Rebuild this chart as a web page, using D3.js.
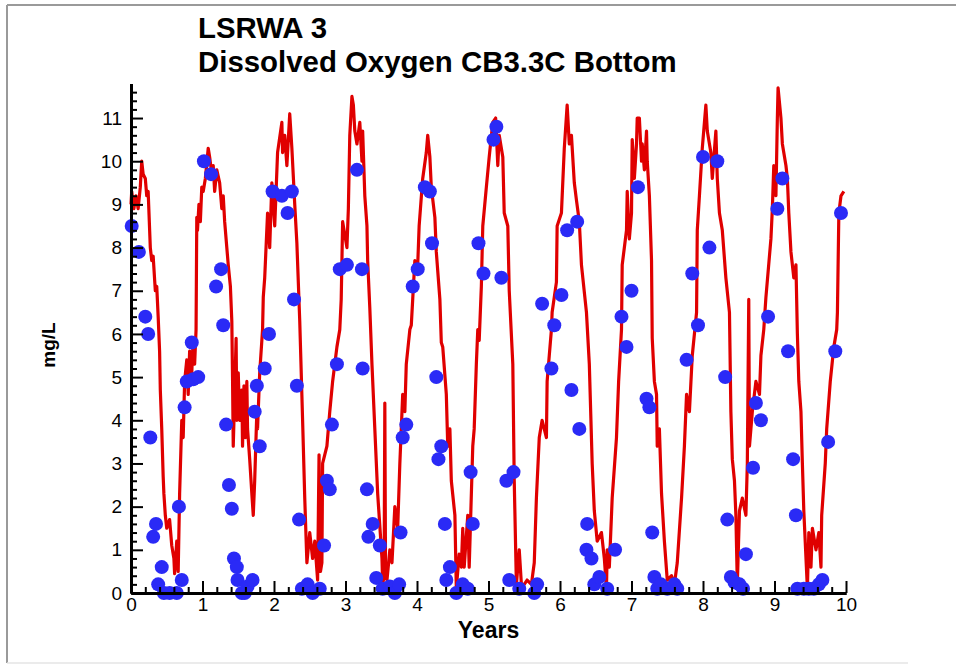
<!DOCTYPE html>
<html>
<head>
<meta charset="utf-8">
<script src="https://cdn.jsdelivr.net/npm/d3@7"></script>
<style>
    body { margin: 0; background: #fff; }
    svg { display: block; font-family: "Liberation Sans", Arial, sans-serif; }
</style>
</head>
<body>
<div id="chart"></div>
<script>

const titleLines = ["LSRWA 3", "Dissolved Oxygen CB3.3C Bottom"];
const xLabel = "Years";
const yLabel = "mg/L";
const xMajorTicks = [0, 1, 2, 3, 4, 5, 6, 7, 8, 9, 10];
const yMajorTicks = [0, 1, 2, 3, 4, 5, 6, 7, 8, 9, 10, 11];

/*  model curve, [years, mg/L]  */
const modelDO = [
    [0.00,9.0],[0.01,9.3],[0.04,8.9],[0.07,9.2],[0.10,8.9],[0.13,9.4],[0.15,10.0],[0.17,9.7],[0.20,9.6],[0.22,9.2],
    [0.24,9.3],[0.27,8.0],[0.29,7.7],[0.31,7.8],[0.34,7.0],[0.36,7.1],[0.38,6.4],[0.40,5.6],[0.41,4.7],[0.43,3.8],
    [0.45,2.7],[0.46,2.3],[0.48,1.8],[0.50,1.5],[0.54,1.7],[0.57,1.1],[0.60,0.8],[0.61,0.45],[0.64,1.2],[0.66,0.5],
    [0.68,2.3],[0.71,4.0],[0.73,3.6],[0.75,4.9],[0.78,5.4],[0.80,4.6],[0.82,5.6],[0.85,5.1],[0.87,5.9],[0.89,5.3],
    [0.91,6.1],[0.92,8.7],[0.93,8.4],[0.95,9.0],[0.97,8.6],[0.99,9.4],[1.01,9.3],[1.04,9.6],[1.08,10.3],[1.10,10.1],
    [1.13,9.7],[1.15,9.9],[1.17,9.3],[1.20,9.8],[1.24,9.5],[1.27,8.9],[1.29,9.2],[1.31,8.6],[1.34,8.0],[1.36,7.6],
    [1.39,7.1],[1.41,6.3],[1.42,5.0],[1.43,3.4],[1.45,4.6],[1.47,5.9],[1.48,4.0],[1.50,5.1],[1.52,4.0],[1.55,4.7],
    [1.56,3.4],[1.58,4.8],[1.60,3.6],[1.62,4.9],[1.63,3.8],[1.66,3.1],[1.69,2.3],[1.71,1.8],[1.73,2.6],[1.76,4.2],
    [1.77,3.8],[1.80,5.1],[1.84,6.1],[1.85,6.85],[1.87,7.3],[1.91,8.8],[1.94,8.0],[1.97,9.5],[2.01,8.5],[2.05,10.2],
    [2.11,10.9],[2.12,10.2],[2.15,10.6],[2.18,9.9],[2.22,11.1],[2.25,10.3],[2.29,9.0],[2.32,8.1],[2.36,6.3],[2.40,4.0],
    [2.43,2.2],[2.46,0.7],[2.50,1.4],[2.54,0.8],[2.57,1.2],[2.61,0.3],[2.63,3.2],[2.65,0.5],[2.67,0.7],[2.68,3.0],
    [2.74,3.4],[2.78,4.2],[2.82,4.9],[2.88,5.7],[2.92,6.1],[2.94,6.8],[2.96,8.6],[3.02,8.0],[3.04,8.9],[3.06,10.6],
    [3.09,11.5],[3.11,11.3],[3.13,10.7],[3.16,10.4],[3.20,10.9],[3.23,10.0],[3.24,10.7],[3.27,9.2],[3.30,8.5],[3.31,7.7],
    [3.34,6.6],[3.37,5.3],[3.41,3.8],[3.45,2.3],[3.51,0.8],[3.52,0.2],[3.54,0.4],[3.55,4.4],[3.56,0.4],[3.58,0.3],
    [3.62,1.0],[3.65,0.7],[3.69,2.0],[3.73,1.5],[3.76,3.0],[3.80,4.6],[3.83,4.2],[3.85,5.3],[3.90,6.1],[3.92,6.2],
    [3.94,6.8],[3.97,7.7],[4.01,7.6],[4.03,8.5],[4.08,9.6],[4.13,10.2],[4.15,10.6],[4.18,10.1],[4.20,9.4],[4.25,8.7],
    [4.27,7.9],[4.32,6.8],[4.34,5.8],[4.36,5.7],[4.41,4.6],[4.43,3.4],[4.46,3.8],[4.48,2.6],[4.53,1.8],[4.55,0.1],
    [4.59,0.9],[4.62,0.6],[4.64,1.5],[4.66,0.6],[4.71,1.8],[4.73,0.6],[4.78,3.4],[4.80,3.8],[4.83,5.3],[4.85,6.1],
    [4.87,5.85],[4.90,7.1],[4.92,8.5],[4.97,9.4],[5.01,10.1],[5.06,10.9],[5.10,11.0],[5.13,9.9],[5.15,10.6],[5.20,10.1],
    [5.22,8.8],[5.27,8.5],[5.29,7.0],[5.34,5.3],[5.36,2.6],[5.39,0.2],[5.43,1.0],[5.46,0.2],[5.50,0.2],[5.54,0.3],
    [5.60,0.2],[5.64,0.7],[5.67,2.2],[5.71,3.6],[5.75,4.0],[5.81,3.6],[5.82,4.9],[5.88,6.1],[5.89,6.5],[5.95,7.2],
    [5.96,8.5],[6.02,8.8],[6.06,10.3],[6.10,11.3],[6.13,10.4],[6.16,10.6],[6.20,9.5],[6.23,9.1],[6.27,8.6],[6.30,7.6],
    [6.37,6.5],[6.41,5.3],[6.45,3.0],[6.48,1.9],[6.52,1.2],[6.58,1.4],[6.62,0.8],[6.65,0.1],[6.66,1.0],[6.69,0.6],
    [6.73,2.2],[6.79,3.6],[6.82,4.9],[6.86,6.1],[6.87,7.6],[6.93,8.4],[6.94,9.3],[6.97,8.2],[7.00,8.8],[7.01,10.5],
    [7.04,9.6],[7.07,10.4],[7.08,11.0],[7.11,11.0],[7.14,10.0],[7.15,10.4],[7.18,9.8],[7.21,10.7],[7.22,10.0],[7.25,9.2],
    [7.28,7.7],[7.29,5.9],[7.32,4.9],[7.35,4.6],[7.36,3.4],[7.39,3.8],[7.42,2.3],[7.46,1.2],[7.50,0.3],[7.56,0.4],
    [7.60,0.2],[7.64,0.7],[7.70,2.2],[7.74,3.4],[7.77,4.6],[7.81,4.2],[7.85,5.5],[7.91,6.5],[7.92,8.4],[7.95,9.2],
    [7.99,10.3],[8.02,10.9],[8.04,11.3],[8.06,10.7],[8.11,10.2],[8.13,9.6],[8.18,10.7],[8.20,9.6],[8.23,8.8],[8.27,8.4],
    [8.32,7.3],[8.37,6.5],[8.39,4.2],[8.41,3.1],[8.44,2.6],[8.46,1.8],[8.48,0.2],[8.51,1.9],[8.55,2.2],[8.60,1.8],
    [8.62,3.0],[8.64,6.8],[8.65,3.4],[8.69,4.2],[8.74,4.9],[8.79,4.6],[8.81,5.5],[8.85,6.1],[8.88,6.85],[8.95,8.2],
    [8.97,8.9],[8.99,9.9],[9.02,9.2],[9.04,11.0],[9.05,11.7],[9.09,11.0],[9.11,10.4],[9.16,9.9],[9.18,9.6],[9.20,8.8],
    [9.23,7.9],[9.27,7.3],[9.30,7.6],[9.32,6.0],[9.34,4.9],[9.37,4.2],[9.39,3.0],[9.41,1.9],[9.46,0.1],[9.48,1.4],
    [9.51,0.6],[9.53,1.5],[9.58,1.0],[9.62,1.4],[9.65,0.6],[9.66,1.8],[9.71,3.0],[9.73,3.8],[9.78,4.9],[9.83,5.7],
    [9.87,6.1],[9.88,6.5],[9.90,8.8],[9.93,9.2],[9.97,9.3]
];

/*  observations, [years, mg/L]  */
const observedDO = [
    [0.01,8.5],[0.11,7.9],[0.20,6.4],[0.24,6.0],[0.27,3.6],[0.31,1.3],[0.35,1.6],[0.38,0.2],[0.43,0.6],[0.46,0.0],
    [0.54,0.0],[0.64,0.0],[0.67,2.0],[0.71,0.3],[0.75,4.3],[0.78,4.9],[0.85,5.8],[0.87,4.95],[0.94,5.0],
    [1.02,10.0],[1.12,9.7],[1.19,7.1],[1.26,7.5],[1.29,6.2],[1.33,3.9],[1.37,2.5],[1.41,1.95],[1.44,0.8],[1.48,0.6],
    [1.49,0.3],[1.55,0.0],[1.59,0.0],[1.63,0.15],[1.70,0.3],[1.73,4.2],[1.76,4.8],[1.80,3.4],[1.87,5.2],[1.93,6.0],
    [1.98,9.3],[2.11,9.2],[2.19,8.8],[2.25,9.3],[2.28,6.8],[2.32,4.8],[2.35,1.7],[2.39,0.1],[2.47,0.2],[2.54,0.0],
    [2.64,0.1],[2.70,1.1],[2.74,2.6],[2.78,2.4],[2.81,3.9],[2.88,5.3],
    [2.92,7.5],[3.02,7.6],[3.16,9.8],[3.23,7.5],[3.24,5.2],[3.30,2.4],[3.32,1.3],[3.38,1.6],[3.43,0.35],[3.48,1.1],
    [3.52,0.1],[3.62,0.15],[3.69,0.0],[3.75,0.2],[3.77,1.4],[3.80,3.6],[3.85,3.9],
    [3.94,7.1],[4.01,7.5],[4.11,9.4],[4.18,9.3],[4.21,8.1],[4.27,5.0],[4.30,3.1],[4.34,3.4],[4.39,1.6],[4.41,0.3],
    [4.46,0.6],[4.55,0.0],[4.64,0.2],[4.71,0.1],[4.75,2.8],[4.78,1.6],
    [4.86,8.1],[4.93,7.4],[5.07,10.5],[5.11,10.8],[5.18,7.3],[5.25,2.6],[5.29,0.3],[5.35,2.8],[5.43,0.1],[5.64,0.0],
    [5.68,0.2],[5.75,6.7],[5.88,5.2],[5.92,6.2],
    [6.02,6.9],[6.10,8.4],[6.16,4.7],[6.24,8.6],[6.27,3.8],[6.37,1.0],[6.38,1.6],[6.44,0.8],[6.48,0.2],[6.55,0.37],
    [6.66,0.1],[6.77,1.0],[6.86,6.4],[6.93,5.7],
    [7.00,7.0],[7.09,9.4],[7.21,4.5],[7.25,4.3],[7.29,1.4],[7.32,0.37],[7.36,0.1],[7.41,0.2],[7.50,0.1],[7.60,0.2],
    [7.64,0.1],[7.77,5.4],[7.85,7.4],[7.93,6.2],
    [8.00,10.1],[8.09,8.0],[8.20,10.0],[8.31,5.0],[8.34,1.7],[8.39,0.37],[8.44,0.25],[8.51,0.2],[8.56,0.1],[8.60,0.9],
    [8.70,2.9],[8.74,4.4],[8.81,4.0],[8.91,6.4],
    [9.04,8.9],[9.11,9.6],[9.19,5.6],[9.26,3.1],[9.30,1.8],[9.32,0.1],[9.41,0.1],[9.48,0.1],[9.55,0.1],[9.62,0.2],
    [9.67,0.3],[9.75,3.5],[9.85,5.6],[9.93,8.8]
];

function DOChart() {

    let self = this;

    self.initialize = function(conf) {
        self.el = document.getElementById(conf.el);
        self.graphWidth = 956;
        self.graphHeight = 665;
        self.plot = {left: 131, right: 846, top: 83.5, bottom: 593};
        self.lineColor = "#e00000";
        self.dotColor = "#2a2af6";

        self.xScale = d3.scaleLinear().domain([0, 10]).range([self.plot.left, self.plot.right]);
        self.yScale = d3.scaleLinear().domain([0, 11.8]).range([self.plot.bottom, self.plot.top]);
        self.render();
    }

    self.render = function() {
        self.svg = d3.select(self.el).append("svg")
                        .attr("width", self.graphWidth)
                        .attr("height", self.graphHeight);
        self.renderFrame();
        self.renderTitle();
        self.renderSeries();
        self.renderAxes();
    }

    self.renderFrame = function() {
        self.svg.append("rect").attr("width", self.graphWidth).attr("height", self.graphHeight).attr("fill", "#fff");
        self.svg.append("line").attr("x1", 7).attr("y1", 5).attr("x2", 956).attr("y2", 5)
                .attr("stroke", "#9a9a9a").attr("stroke-width", 2);
        self.svg.append("line").attr("x1", 7).attr("y1", 5).attr("x2", 7).attr("y2", 663)
                .attr("stroke", "#9a9a9a").attr("stroke-width", 2);
        self.svg.append("line").attr("x1", 7).attr("y1", 663).attr("x2", 908).attr("y2", 663)
                .attr("stroke", "#e4e4e4").attr("stroke-width", 1.5);
    }

    self.renderTitle = function() {
        self.svg.selectAll(".title")
                .data(titleLines)
                .enter().append("text")
                .attr("class", "title")
                .attr("x", 198)
                .attr("y", function(d, i) { return 38 + i * 34; })
                .attr("font-size", 29.4)
                .attr("font-weight", "bold")
                .text(function(d) { return d; });

        self.svg.append("text")
                .attr("x", (self.plot.left + self.plot.right) / 2)
                .attr("y", 638)
                .attr("text-anchor", "middle")
                .attr("font-size", 23)
                .attr("font-weight", "bold")
                .text(xLabel);

        self.svg.append("text")
                .attr("transform", "translate(55,345) rotate(-90)")
                .attr("text-anchor", "middle")
                .attr("font-size", 19)
                .attr("font-weight", "bold")
                .text(yLabel);
    }

    self.renderSeries = function() {
        let line = d3.line()
                    .x(function(d) { return self.xScale(d[0]); })
                    .y(function(d) { return self.yScale(d[1]); });

        self.svg.append("path")
                .datum(modelDO)
                .attr("d", line)
                .attr("fill", "none")
                .attr("stroke", self.lineColor)
                .attr("stroke-width", 3.2)
                .attr("stroke-linejoin", "round");

        self.svg.selectAll(".obs")
                .data(observedDO)
                .enter().append("circle")
                .attr("class", "obs")
                .attr("cx", function(d) { return self.xScale(d[0]); })
                .attr("cy", function(d) { return self.yScale(d[1]); })
                .attr("r", 7)
                .attr("fill", self.dotColor);
    }

    self.renderAxes = function() {
        let xMinor = d3.range(0, 51).filter(function(i) { return i % 5 !== 0; }).map(function(i) { return i * 0.2; });
        let yMinor = d3.range(0, 59).filter(function(i) { return i % 5 !== 0; }).map(function(i) { return i * 0.2; });

        let xMinorAxis = self.svg.append("g")
                        .attr("transform", "translate(0," + self.plot.bottom + ")")
                        .call(d3.axisBottom(self.xScale).tickValues(xMinor).tickSize(-6).tickSizeOuter(0).tickFormat(""));
        let xAxis = self.svg.append("g")
                        .attr("transform", "translate(0," + self.plot.bottom + ")")
                        .call(d3.axisBottom(self.xScale).tickValues(xMajorTicks).tickSize(-12).tickSizeOuter(0).tickPadding(5));

        let yMinorAxis = self.svg.append("g")
                        .attr("transform", "translate(" + self.plot.left + ",0)")
                        .call(d3.axisLeft(self.yScale).tickValues(yMinor).tickSize(-6).tickSizeOuter(0).tickFormat(""));
        let yAxis = self.svg.append("g")
                        .attr("transform", "translate(" + self.plot.left + ",0)")
                        .call(d3.axisLeft(self.yScale).tickValues(yMajorTicks).tickSize(-12).tickSizeOuter(0).tickPadding(9));

        [xMinorAxis, xAxis, yMinorAxis, yAxis].forEach(function(g) {
            g.select(".domain").attr("stroke", "#000").attr("stroke-width", 3);
            g.selectAll(".tick line").attr("stroke", "#000").attr("stroke-width", 2);
            g.selectAll(".tick text").attr("fill", "#000").attr("font-size", 19)
                .attr("font-family", "'Liberation Sans', Arial, sans-serif");
        });
    }
}

let chart = new DOChart();
chart.initialize({el: "chart"});
</script>
</body>
</html>
